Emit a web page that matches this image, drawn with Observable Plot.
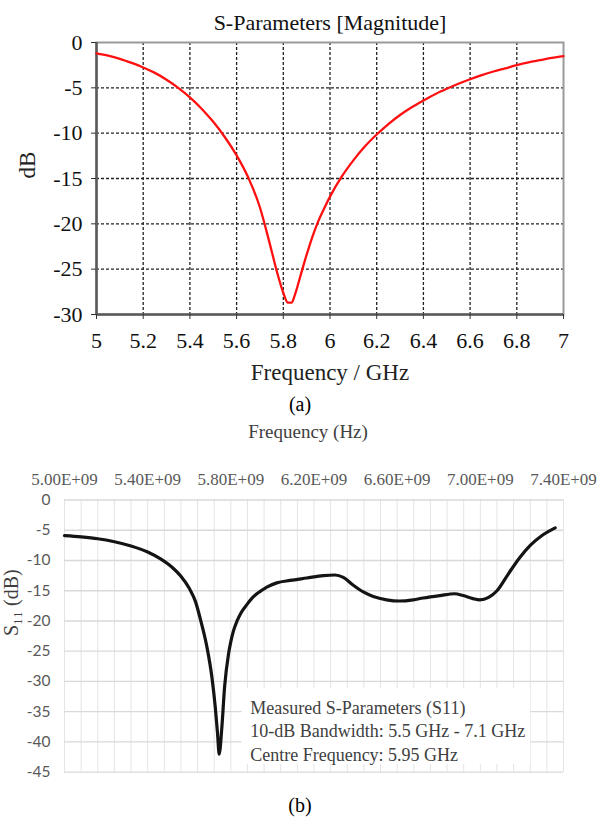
<!DOCTYPE html>
<html><head><meta charset="utf-8">
<script src="https://cdn.jsdelivr.net/npm/d3@7"></script>
<script src="https://cdn.jsdelivr.net/npm/@observablehq/plot@0.6"></script>
<style>
body{margin:0;background:#fff;}
#wrap{position:relative;width:611px;height:818px;overflow:hidden;background:#fff;}
#a,#b{position:absolute;left:0;}
#a{top:0;}
#b{top:418px;}
</style></head>
<body><div id="wrap"><div id="a"></div><div id="b"></div></div>
<script>
// ---------- Chart (a): simulated S11 ----------
const titleA = "S-Parameters [Magnitude]";
const xLabelA = "Frequency / GHz";
const yLabelA = "dB";
const captionA = "(a)";
const xTicksA = [5, 5.2, 5.4, 5.6, 5.8, 6, 6.2, 6.4, 6.6, 6.8, 7];
const yTicksA = [0, -5, -10, -15, -20, -25, -30];
const freqA = [5.0, 5.05, 5.1, 5.15, 5.2, 5.25, 5.3, 5.35, 5.4, 5.45, 5.5, 5.55, 5.6, 5.65, 5.7, 5.725, 5.75, 5.775, 5.8, 5.82, 5.835, 5.85, 5.875, 5.9, 5.925, 5.95, 5.975, 6.0, 6.05, 6.1, 6.15, 6.2, 6.25, 6.3, 6.35, 6.4, 6.45, 6.5, 6.55, 6.6, 6.65, 6.7, 6.75, 6.8, 6.85, 6.9, 6.95, 7.0];
const s11A = [-1.2, -1.45, -1.8, -2.25, -2.75, -3.35, -4.1, -5.0, -6.05, -7.3, -8.75, -10.45, -12.45, -14.9, -18.2, -20.5, -23.0, -25.5, -27.6, -28.7, -28.7, -27.8, -25.6, -23.4, -21.4, -19.7, -18.3, -17.0, -14.8, -13.0, -11.45, -10.15, -9.0, -8.0, -7.15, -6.4, -5.7, -5.1, -4.55, -4.05, -3.6, -3.2, -2.85, -2.5, -2.2, -1.95, -1.7, -1.5];

// ---------- Chart (b): measured S11 ----------
const xLabelB = "Frequency (Hz)";
const yLabelB = "S\u2081\u2081 (dB)";
const captionB = "(b)";
const xTicksB = [5.0e9, 5.4e9, 5.8e9, 6.2e9, 6.6e9, 7.0e9, 7.4e9];
const xTickLabelsB = ["5.00E+09", "5.40E+09", "5.80E+09", "6.20E+09", "6.60E+09", "7.00E+09", "7.40E+09"];
const yTicksB = [0, -5, -10, -15, -20, -25, -30, -35, -40, -45];
const gridStepB = 0.08e9;
const freqB = [5.0e9, 5.08e9, 5.16e9, 5.24e9, 5.32e9, 5.40e9, 5.46e9, 5.52e9, 5.56e9, 5.60e9, 5.63e9, 5.655e9, 5.685e9, 5.709e9, 5.725e9, 5.736e9, 5.744e9, 5.757e9, 5.770e9, 5.789e9, 5.80e9, 5.813e9, 5.83e9, 5.85e9, 5.877e9, 5.90e9, 5.925e9, 5.95e9, 5.973e9, 6.021e9, 6.085e9, 6.165e9, 6.245e9, 6.301e9, 6.341e9, 6.389e9, 6.437e9, 6.485e9, 6.549e9, 6.613e9, 6.677e9, 6.725e9, 6.805e9, 6.877e9, 6.917e9, 6.965e9, 6.997e9, 7.04e9, 7.08e9, 7.135e9, 7.19e9, 7.24e9, 7.295e9, 7.36e9];
const s11B = [-5.9, -6.1, -6.4, -6.9, -7.6, -8.6, -9.7, -11.2, -12.6, -14.6, -16.8, -19.9, -24.3, -29.3, -34.2, -38.6, -42.0, -37.5, -30.9, -25.4, -23.4, -21.6, -20.0, -18.6, -17.3, -16.3, -15.5, -14.9, -14.4, -13.7, -13.3, -12.9, -12.5, -12.4, -12.8, -14.1, -15.2, -15.95, -16.5, -16.7, -16.5, -16.2, -15.8, -15.5, -15.8, -16.3, -16.5, -16.1, -15.0, -12.2, -9.5, -7.5, -5.9, -4.6];
const noteLines = ["Measured S-Parameters (S11)", "10-dB Bandwidth: 5.5 GHz - 7.1 GHz", "Centre Frequency: 5.95 GHz"];
const noteAnchor = {x: 5.893e9, y: -32.6};
const noteBox = {x1: 5.855e9, x2: 7.242e9, y1: -31.2, y2: -43.7};

const serif = "'Liberation Serif','Times New Roman',Times,serif";
const sans = "Lato,'Open Sans',sans-serif";
const fmt = d => String(d);

const dataA = freqA.map((f, i) => ({f, db: s11A[i]}));
const plotA = Plot.plot({
  width: 611, height: 418,
  marginTop: 42, marginBottom: 104, marginLeft: 96, marginRight: 48,
  style: {fontFamily: serif, fontSize: "22px", color: "#000", background: "transparent", overflow: "visible"},
  x: {domain: [xTicksA[0], xTicksA[xTicksA.length - 1]]},
  y: {domain: [yTicksA[yTicksA.length - 1], yTicksA[0]]},
  marks: [
    Plot.ruleX(xTicksA.slice(1, -1), {stroke: "#222", strokeWidth: 1.3, strokeDasharray: "3,2"}),
    Plot.ruleY(yTicksA.slice(1, -1), {stroke: "#222", strokeWidth: 1.3, strokeDasharray: "3,2"}),
    Plot.frame({stroke: "#9a9a9a", strokeWidth: 2}),
    Plot.ruleX([xTicksA[0]], {stroke: "#5a5a5a", strokeWidth: 2.5}),
    Plot.ruleY([yTicksA[yTicksA.length - 1]], {stroke: "#5a5a5a", strokeWidth: 2.5}),
    Plot.axisX({ticks: xTicksA, tickSize: 5, tickPadding: 13, tickFormat: fmt, label: null, stroke: "#333", fontSize: 22, fill: "#111"}),
    Plot.axisY({ticks: yTicksA, tickSize: 5, tickPadding: 9, tickFormat: fmt, label: null, stroke: "#333", fontSize: 22, fill: "#111"}),
    Plot.line(dataA, {x: "f", y: "db", stroke: "#ff1010", strokeWidth: 2.3, curve: "monotone-x"}),
    Plot.text([titleA], {text: d => d, frameAnchor: "top", dy: -28, fontSize: 22, fill: "#111"}),
    Plot.text([xLabelA], {text: d => d, frameAnchor: "bottom", dy: 65, fontSize: 23, fill: "#222"}),
    Plot.text([yLabelA], {text: d => d, frameAnchor: "left", dx: -69, rotate: -90, fontSize: 23, fill: "#222"}),
    Plot.text([captionA], {text: d => d, frameAnchor: "bottom", dx: -30, dy: 96, fontSize: 20, fill: "#000"})
  ]
});
document.getElementById("a").appendChild(plotA);

const dataB = freqB.map((f, i) => ({f, db: s11B[i]}));
const gridXB = d3.range(xTicksB[0], xTicksB[xTicksB.length - 1] + gridStepB / 2, gridStepB);
const plotB = Plot.plot({
  width: 611, height: 400,
  marginTop: 81.5, marginBottom: 46.3, marginLeft: 64, marginRight: 48,
  style: {fontFamily: serif, fontSize: "16px", color: "#595959", background: "transparent", overflow: "visible"},
  x: {domain: [xTicksB[0], xTicksB[xTicksB.length - 1]]},
  y: {domain: [yTicksB[yTicksB.length - 1], yTicksB[0]]},
  marks: [
    Plot.ruleX(gridXB, {stroke: "#e4e4e4", strokeWidth: 1}),
    Plot.ruleY(yTicksB, {stroke: "#d9d9d9", strokeWidth: 1.3}),
    Plot.line(dataB, {x: "f", y: "db", stroke: "#141414", strokeWidth: 3.2, curve: "monotone-x"}),
    Plot.rect([noteBox], {x1: "x1", x2: "x2", y1: "y1", y2: "y2", fill: "white"}),
    Plot.text([noteLines.join("\n")], {text: d => d, x: noteAnchor.x, y: noteAnchor.y, textAnchor: "start", lineAnchor: "top", lineHeight: 1.3, fontSize: 18, fill: "#404040"}),
    Plot.axisX({anchor: "top", ticks: xTicksB, tickSize: 0, tickPadding: 15, tickFormat: d => xTickLabelsB[xTicksB.indexOf(d)], label: null, fontSize: 17, fill: "#595959"}),
    Plot.axisY({ticks: yTicksB, tickSize: 0, tickPadding: 14, tickFormat: fmt, label: null, fontFamily: sans, fontSize: 15.5, fill: "#595959"}),
    Plot.text([xLabelB], {text: d => d, frameAnchor: "top", dx: -6, dy: -76, fontSize: 19, fill: "#404040"}),
    Plot.text([yLabelB], {text: d => d, frameAnchor: "left", dx: -53, rotate: -90, fontSize: 20, fill: "#404040"}),
    Plot.text([captionB], {text: d => d, frameAnchor: "bottom", dx: -14, dy: 40, fontSize: 20, fill: "#000"})
  ]
});
document.getElementById("b").appendChild(plotB);
</script>
</body></html>
